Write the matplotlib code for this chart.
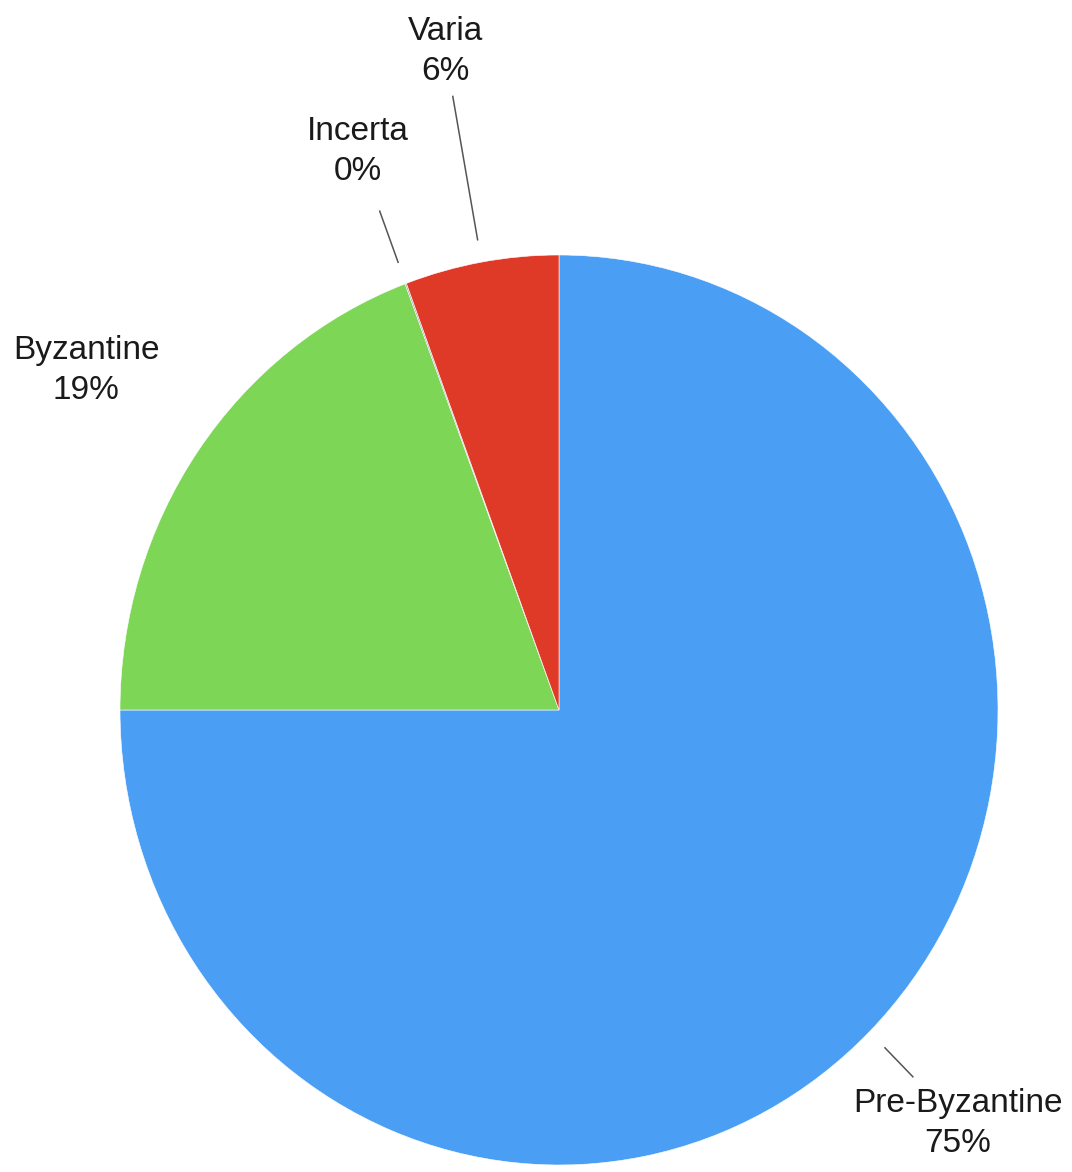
import numpy as np
import matplotlib
matplotlib.use("Agg")
import matplotlib.pyplot as plt

# data (share in %, clockwise from 12 o'clock)
labels = ["Pre-Byzantine", "Byzantine", "Incerta", "Varia"]
values = [75.0, 19.3, 0.05, 5.65]
colors = ["#4A9FF5", "#7ED656", "#9AA0A6", "#DF3A27"]

# label placement (radius of leader line end, radius of text centre)
line_end = [1.14, None, 1.17, 1.37]
text_r = [1.285, 1.31, 1.31, 1.47]

plt.rcParams["font.family"] = ["Liberation Sans", "DejaVu Sans"]

fig = plt.figure(figsize=(10.72, 11.72), dpi=100)
ax = fig.add_axes([120 / 1072, 7 / 1172, 878 / 1072, 910 / 1172])

wedges, _ = ax.pie(values, colors=colors, startangle=90, counterclock=False,
                   wedgeprops=dict(edgecolor="white", linewidth=0.4))
ax.set_aspect("auto")
ax.set_xlim(-1, 1)
ax.set_ylim(-1, 1)
ax.axis("off")

for w, lab, val, le, tr in zip(wedges, labels, values, line_end, text_r):
    ang = np.deg2rad((w.theta1 + w.theta2) / 2)
    c, s = np.cos(ang), np.sin(ang)
    if le is not None:
        ax.plot([1.05 * c, le * c], [1.05 * s, le * s], color="#555555",
                lw=1.1, clip_on=False)
    ax.text(tr * c, tr * s, f"{lab}\n{val:.0f}%", ha="center", va="center",
            fontsize=24, color="#1a1a1a", linespacing=1.35, clip_on=False)

fig.savefig("out.png", dpi=100, facecolor="white")
